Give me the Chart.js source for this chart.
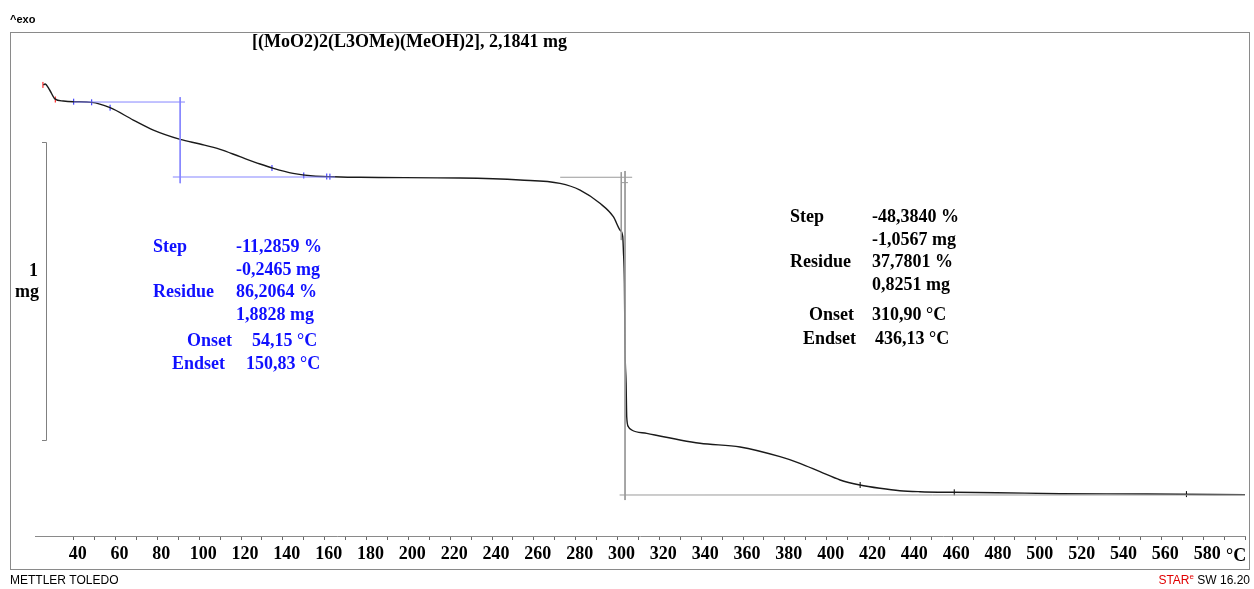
<!DOCTYPE html>
<html>
<head>
<meta charset="utf-8">
<script src="https://cdn.jsdelivr.net/npm/chart.js@4.4.1/dist/chart.umd.min.js"></script>
<style>
  html, body { margin: 0; padding: 0; background: #fff; }
  #wrap { width: 1254px; height: 589px; position: relative; }
</style>
</head>
<body>
<div id="wrap"><canvas id="tga" width="1254" height="589"></canvas></div>
<script>
// TGA-kurva: temperatur (°C) och massa (mg)
const temps = [25.5, 26.3, 28.5, 31, 35, 40, 48.6, 57.4, 68.5, 78.1, 90.9, 100.4, 110.0, 119.5, 129.1, 135.5, 144.9, 154.4, 164.0, 176.9, 224.7, 253.4, 272.5, 282.1, 291.6, 298.0, 301.2, 302.5, 302.8, 303.3, 303.6, 304.1, 304.4, 305.2, 306.8, 314.0, 339.4, 358.6, 377.7, 387.2, 396.8, 406.4, 415.9, 425.5, 435.0, 444.6, 460.4, 481.3, 511.7, 553.0, 600];
const masses = [2.192, 2.195, 2.175, 2.145, 2.138, 2.1357, 2.1336, 2.1155, 2.0742, 2.0406, 2.0094, 1.9936, 1.9758, 1.951, 1.9265, 1.912, 1.8952, 1.8862, 1.8838, 1.8818, 1.8794, 1.8727, 1.8616, 1.8391, 1.7945, 1.7495, 1.7048, 1.6823, 1.6377, 1.5269, 1.3019, 1.1911, 1.0780, 1.0443, 1.0333, 1.0221, 0.9886, 0.9762, 0.9436, 0.9214, 0.8932, 0.8654, 0.8486, 0.8375, 0.8294, 0.8261, 0.8241, 0.8227, 0.8193, 0.8183, 0.8161];

// x-axelns etiketter (var 20:e grad)
const tickLabels = [40, 60, 80, 100, 120, 140, 160, 180, 200, 220, 240, 260, 280, 300, 320, 340, 360, 380, 400, 420, 440, 460, 480, 500, 520, 540, 560, 580];

// Steg 1 (blå) utvärderingslinjer
const step1Upper = [[40, 2.1346], [93.2, 2.1346]];
const step1Vertical = [[90.9, 2.151], [90.9, 1.862]];
const step1Lower = [[87.4, 1.8828], [165, 1.8828]];
// Steg 2 (grå) utvärderingslinjer
const step2Upper = [[272.6, 1.882], [307, 1.882]];
const step2Upper2 = [[305, 1.864], [302, 1.864]];
const step2Vertical = [[303.6, 1.903], [303.6, 0.798]];
const step2Vertical2 = [[301.8, 1.899], [301.8, 1.671]];
const step2Lower = [[301, 0.815], [600, 0.815]];

// Små markeringar på kurvan
const blueMarks = [[40, 2.1357], [48.6, 2.1336], [57.4, 2.1155], [134.8, 1.913], [150, 1.888], [161, 1.8845], [162.5, 1.884]];
const blackMarks = [[416, 0.8486], [461, 0.824], [572, 0.818]];
const redMarks = [[25.3, 2.192], [31.2, 2.143]];

// Skalstreck 1 mg
const scaleBar = [2.0, 1.0];

const toXY = arr => arr.map(p => ({ x: p[0], y: p[1] }));
const curve = temps.map((t, i) => ({ x: t, y: masses[i] }));

const SERIF = '"Liberation Serif", "Times New Roman", serif';
const SANS = '"Liberation Sans", Arial, sans-serif';
const BLUE_LINE = '#8585ff';
const GRAY_LINE = '#9a9a9a';

function lineSet(data, color, width) {
    return { data: toXY(data), showLine: true, borderColor: color, borderWidth: width || 1, pointRadius: 0, fill: false };
}
function markSet(data, color) {
    return { data: toXY(data), showLine: false, pointStyle: 'line', rotation: 90, pointRadius: 3, borderColor: color, borderWidth: 1 };
}

const textPlugin = {
    id: 'textPlugin',
    afterDraw(chart) {
        const ctx = chart.ctx;
        const ys = chart.scales.y;
        ctx.save();
        // ram
        ctx.strokeStyle = '#8a8a8a';
        ctx.lineWidth = 1;
        ctx.strokeRect(10.5, 32.5, 1239, 537);

        ctx.fillStyle = '#000';
        ctx.textBaseline = 'middle';
        ctx.font = 'bold 11px ' + SANS;
        ctx.textAlign = 'left';
        ctx.fillText('^exo', 10, 20);

        ctx.font = 'bold 18px ' + SERIF;
        ctx.fillText('[(MoO2)2(L3OMe)(MeOH)2], 2,1841 mg', 252, 42);

        // skalstreck
        const y1 = Math.round(ys.getPixelForValue(scaleBar[0])) + 0.5;
        const y2 = Math.round(ys.getPixelForValue(scaleBar[1])) + 0.5;
        ctx.strokeStyle = '#808080';
        ctx.beginPath();
        ctx.moveTo(42, y1); ctx.lineTo(46.5, y1); ctx.lineTo(46.5, y2); ctx.lineTo(42, y2);
        ctx.stroke();
        ctx.textAlign = 'right';
        ctx.fillText('1', 38, 271);
        ctx.fillText('mg', 39, 292);

        // steg 1 (blått)
        ctx.fillStyle = '#1010ff';
        ctx.textAlign = 'left';
        ctx.fillText('Step', 153, 247);
        ctx.fillText('-11,2859 %', 236, 247);
        ctx.fillText('-0,2465 mg', 236, 270);
        ctx.fillText('Residue', 153, 292);
        ctx.fillText('86,2064 %', 236, 292);
        ctx.fillText('1,8828 mg', 236, 315);
        ctx.textAlign = 'right';
        ctx.fillText('Onset', 232, 341);
        ctx.fillText('Endset', 225, 364);
        ctx.textAlign = 'left';
        ctx.fillText('54,15 °C', 252, 341);
        ctx.fillText('150,83 °C', 246, 364);

        // steg 2 (svart)
        ctx.fillStyle = '#000';
        ctx.fillText('Step', 790, 217);
        ctx.fillText('-48,3840 %', 872, 217);
        ctx.fillText('-1,0567 mg', 872, 240);
        ctx.fillText('Residue', 790, 262);
        ctx.fillText('37,7801 %', 872, 262);
        ctx.fillText('0,8251 mg', 872, 285);
        ctx.textAlign = 'right';
        ctx.fillText('Onset', 854, 315);
        ctx.fillText('Endset', 856, 339);
        ctx.textAlign = 'left';
        ctx.fillText('310,90 °C', 872, 315);
        ctx.fillText('436,13 °C', 875, 339);

        // enhet på x-axeln
        ctx.fillText('°C', 1226, 556);

        // sidfot
        ctx.font = '12px ' + SANS;
        ctx.fillText('METTLER TOLEDO', 10, 581);
        ctx.textAlign = 'right';
        const tail = ' SW 16.20';
        const tailW = ctx.measureText(tail).width;
        ctx.fillText(tail, 1250, 581);
        ctx.font = '8px ' + SANS;
        ctx.fillStyle = '#e00000';
        const eW = ctx.measureText('e').width;
        ctx.fillText('e', 1250 - tailW, 577);
        ctx.font = '12px ' + SANS;
        ctx.fillText('STAR', 1250 - tailW - eW, 581);
        ctx.restore();
    }
};

new Chart(document.getElementById('tga'), {
    type: 'scatter',
    data: {
        datasets: [
            lineSet(step1Upper, BLUE_LINE),
            lineSet(step1Vertical, BLUE_LINE),
            lineSet(step1Lower, BLUE_LINE),
            lineSet(step2Upper, GRAY_LINE),
            lineSet(step2Upper2, GRAY_LINE),
            lineSet(step2Vertical, GRAY_LINE),
            lineSet(step2Vertical2, GRAY_LINE),
            lineSet(step2Lower, GRAY_LINE),
            {
                data: curve,
                showLine: true,
                borderColor: '#1a1a1a',
                borderWidth: 1.4,
                pointRadius: 0,
                cubicInterpolationMode: 'monotone',
                fill: false
            },
            markSet(blueMarks, '#2020ff'),
            markSet(blackMarks, '#000'),
            markSet(redMarks, '#ff0000')
        ]
    },
    options: {
        responsive: false,
        animation: false,
        devicePixelRatio: 1,
        layout: { padding: { left: 35, right: 9, top: 33, bottom: 0 } },
        plugins: { legend: { display: false }, tooltip: { enabled: false } },
        scales: {
            x: {
                type: 'linear',
                min: 21.5,
                max: 600,
                afterBuildTicks: scale => {
                    scale.ticks = scale.ticks.filter(t => Math.abs(t.value % 10) < 1e-6);
                },
                afterFit: scale => { scale.height = 53; },
                ticks: {
                    stepSize: 10,
                    autoSkip: false,
                    maxRotation: 0,
                    padding: 4,
                    labelOffset: 4,
                    color: '#000',
                    font: { family: SERIF, size: 18, weight: 'bold' },
                    callback: v => tickLabels.includes(v) ? String(v) : ''
                },
                grid: { drawOnChartArea: false, drawTicks: true, tickLength: 4, color: '#666' },
                border: { display: true, color: '#8a8a8a', width: 1 }
            },
            y: {
                display: false,
                min: 0.6773,
                max: 2.3664
            }
        }
    },
    plugins: [textPlugin]
});
</script>
</body>
</html>
